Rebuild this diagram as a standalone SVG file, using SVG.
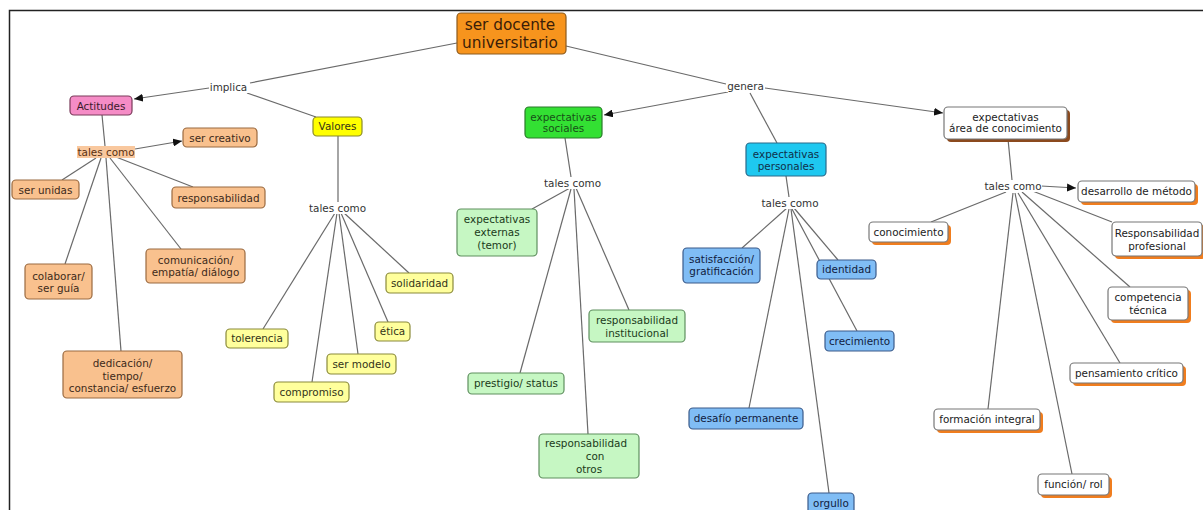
<svg xmlns="http://www.w3.org/2000/svg" width="1203" height="510" viewBox="0 0 1203 510">
<defs>
<marker id="ah" markerUnits="userSpaceOnUse" markerWidth="10" markerHeight="8" refX="9" refY="4" orient="auto">
<path d="M0,0 L9,4 L0,8 Z" fill="#111"/>
</marker>
</defs>
<style>
text{font-family:"DejaVu Sans","Liberation Sans",sans-serif;font-size:10.4px;text-anchor:middle}
.c line{stroke:#6a6a6a;stroke-width:1.2}
.c .a{marker-end:url(#ah)}
.lbl text{fill:#333}
.n rect{stroke-width:1.2}
.root rect{fill:#F7941D;stroke:#8B5A1E}
.root text{font-size:15.3px;fill:#3b1d08}
.pink rect{fill:#F58CC6;stroke:#7a3a5a}
.pink text{fill:#3a1a2a}
.peach rect{fill:#F9C18E;stroke:#9a6a40}
.peach text{fill:#3d2a1a}
.yel rect{fill:#FFFF9C;stroke:#8a8a3a}
.yel text{fill:#333318}
.ybright rect{fill:#FFFF00;stroke:#8a8a2a}
.lgreen rect{fill:#C6F7C3;stroke:#5f8f5f}
.lgreen text{fill:#1a3a1a}
.bgreen rect{fill:#33E033;stroke:#2a7a2a}
.bgreen text{fill:#185018}
.cyan rect{fill:#1EC8F0;stroke:#2a6a8a}
.cyan text{fill:#10304a}
.blue rect{fill:#80BDF5;stroke:#3a5a8a}
.blue text{fill:#102040}
.wht rect.s{fill:#F07D1E;stroke:none}
.wht rect.b{fill:#fff;stroke:#777}
.wht text{fill:#222}
.brn rect.s{fill:#8B4A1E}
</style>
<path d="M9.5,510 V10.5 H1203" fill="none" stroke="#222" stroke-width="1.5"/>

<g id="connectors" class="c">
<line x1="457" y1="43" x2="250" y2="83"/>
<line class="a" x1="209" y1="88" x2="134" y2="99"/>
<line x1="247" y1="93" x2="316" y2="117"/>
<line x1="566" y1="46" x2="726" y2="84"/>
<line class="a" x1="728" y1="92" x2="604" y2="115"/>
<line x1="750" y1="93" x2="777" y2="143"/>
<line class="a" x1="765" y1="88" x2="943" y2="113"/>
<line x1="102" y1="115" x2="105" y2="146"/>
<line class="a" x1="135" y1="149" x2="182" y2="141"/>
<line x1="96" y1="158" x2="62" y2="180"/>
<line x1="101" y1="158" x2="65" y2="264"/>
<line x1="106" y1="158" x2="121" y2="351"/>
<line x1="110" y1="158" x2="181" y2="249"/>
<line x1="116" y1="157" x2="193" y2="187"/>
<line x1="338" y1="136" x2="338" y2="202"/>
<line x1="335" y1="213" x2="263" y2="329"/>
<line x1="337" y1="213" x2="312" y2="382"/>
<line x1="339" y1="213" x2="358" y2="354"/>
<line x1="341" y1="213" x2="388" y2="322"/>
<line x1="343" y1="212" x2="409" y2="273"/>
<line x1="565" y1="138" x2="571" y2="177"/>
<line x1="570" y1="188" x2="532" y2="209"/>
<line x1="571" y1="189" x2="520" y2="373"/>
<line x1="574" y1="189" x2="588" y2="434"/>
<line x1="576" y1="188" x2="629" y2="310"/>
<line x1="786" y1="176" x2="789" y2="197"/>
<line x1="787" y1="208" x2="742" y2="248"/>
<line x1="792" y1="209" x2="857" y2="331"/>
<line x1="794" y1="208" x2="838" y2="260"/>
<line x1="789" y1="209" x2="749" y2="408"/>
<line x1="791" y1="209" x2="829" y2="493"/>
<line x1="1008" y1="139" x2="1012" y2="180"/>
<line class="a" x1="1041" y1="186" x2="1076" y2="188"/>
<line x1="1006" y1="192" x2="931" y2="222"/>
<line x1="1030" y1="190" x2="1112" y2="222"/>
<line x1="1022" y1="192" x2="1130" y2="287"/>
<line x1="1018" y1="193" x2="1120" y2="363"/>
<line x1="1013" y1="193" x2="988" y2="409"/>
<line x1="1015" y1="193" x2="1072" y2="474"/>
</g>

<g id="lbl-implica" class="lbl"><rect x="209" y="80" width="40" height="13" fill="#fff"/><text x="228.5" y="90.5">implica</text></g>
<g id="lbl-genera" class="lbl"><rect x="726" y="79" width="39" height="13" fill="#fff"/><text x="745.5" y="89.5">genera</text></g>
<g id="lbl-tc-actitudes"><rect x="77" y="146" width="58" height="12" fill="#F9C89E"/><text x="106" y="156" fill="#5a3010">tales como</text></g>
<g id="lbl-tc-valores" class="lbl"><rect x="308" y="202" width="59" height="12" fill="#fff"/><text x="337.5" y="211.5">tales como</text></g>
<g id="lbl-tc-sociales" class="lbl"><rect x="543" y="177" width="59" height="12" fill="#fff"/><text x="572.5" y="186.5">tales como</text></g>
<g id="lbl-tc-personales" class="lbl"><rect x="761" y="197" width="59" height="12" fill="#fff"/><text x="790" y="206.5">tales como</text></g>
<g id="lbl-tc-area" class="lbl"><rect x="984" y="180" width="58" height="12" fill="#fff"/><text x="1013" y="189.5">tales como</text></g>

<g id="n-root" class="n root"><rect x="457" y="13" width="109" height="41" rx="4"/><text x="510" y="30">ser docente</text><text x="510" y="48">universitario</text></g>
<g id="n-actitudes" class="n pink"><rect x="70" y="96" width="62" height="19" rx="4"/><text x="101" y="109.5">Actitudes</text></g>
<g id="n-valores" class="n ybright"><rect x="313" y="117" width="49" height="19" rx="4"/><text x="337.5" y="130" fill="#333318">Valores</text></g>

<g id="n-ser-creativo" class="n peach"><rect x="183" y="128" width="74" height="19" rx="4"/><text x="220" y="141.5">ser creativo</text></g>
<g id="n-ser-unidas" class="n peach"><rect x="12" y="180" width="67" height="19" rx="4"/><text x="45.5" y="193.5">ser unidas</text></g>
<g id="n-responsabilidad" class="n peach"><rect x="172" y="187" width="93" height="21" rx="4"/><text x="218.5" y="201.5">responsabilidad</text></g>
<g id="n-colaborar" class="n peach"><rect x="25" y="264" width="67" height="35" rx="4"/><text x="58.5" y="280">colaborar/</text><text x="58.5" y="292">ser guía</text></g>
<g id="n-comunicacion" class="n peach"><rect x="146" y="249" width="99" height="34" rx="4"/><text x="195.5" y="264">comunicación/</text><text x="195.5" y="276">empatía/ diálogo</text></g>
<g id="n-dedicacion" class="n peach"><rect x="63" y="351" width="119" height="47" rx="4"/><text x="122.5" y="367">dedicación/</text><text x="122.5" y="379.5">tiempo/</text><text x="122.5" y="392">constancia/ esfuerzo</text></g>

<g id="n-solidaridad" class="n yel"><rect x="386" y="273" width="67" height="20" rx="4"/><text x="419.5" y="286.5">solidaridad</text></g>
<g id="n-etica" class="n yel"><rect x="375" y="322" width="35" height="19" rx="4"/><text x="392.5" y="335">ética</text></g>
<g id="n-tolerencia" class="n yel"><rect x="226" y="329" width="62" height="19" rx="4"/><text x="257" y="342">tolerencia</text></g>
<g id="n-ser-modelo" class="n yel"><rect x="327" y="354" width="69" height="20" rx="4"/><text x="361.5" y="367.5">ser modelo</text></g>
<g id="n-compromiso" class="n yel"><rect x="274" y="382" width="75" height="20" rx="4"/><text x="311.5" y="395.5">compromiso</text></g>

<g id="n-exp-sociales" class="n bgreen"><rect x="525" y="107" width="77" height="31" rx="4"/><text x="563.5" y="120.5">expectativas</text><text x="563.5" y="132">sociales</text></g>
<g id="n-exp-personales" class="n cyan"><rect x="746" y="143" width="80" height="33" rx="4"/><text x="786" y="157.5">expectativas</text><text x="786" y="169.5">personales</text></g>
<g id="n-exp-area" class="n wht brn"><rect class="s" x="947" y="110" width="123" height="32" rx="4"/><rect class="b" x="944" y="107" width="123" height="32" rx="4"/><text x="1005.5" y="120.5">expectativas</text><text x="1005.5" y="132">área de conocimiento</text></g>

<g id="n-externas" class="n lgreen"><rect x="457" y="209" width="80" height="47" rx="4"/><text x="497" y="222.5">expectativas</text><text x="497" y="235.5">externas</text><text x="497" y="248.5">(temor)</text></g>
<g id="n-resp-inst" class="n lgreen"><rect x="589" y="310" width="96" height="32" rx="4"/><text x="637" y="324">responsabilidad</text><text x="637" y="336.5">institucional</text></g>
<g id="n-prestigio" class="n lgreen"><rect x="468" y="373" width="96" height="21" rx="4"/><text x="516" y="387">prestigio/ status</text></g>
<g id="n-resp-otros" class="n lgreen"><rect x="539" y="434" width="100" height="44" rx="4"/><text x="586" y="447">responsabilidad</text><text x="595" y="460">con</text><text x="589" y="473">otros</text></g>

<g id="n-satisfaccion" class="n blue"><rect x="683" y="248" width="77" height="35" rx="4"/><text x="721.5" y="262.5">satisfacción/</text><text x="721.5" y="274.5">gratificación</text></g>
<g id="n-identidad" class="n blue"><rect x="817" y="260" width="59" height="19" rx="4"/><text x="846.5" y="273">identidad</text></g>
<g id="n-crecimiento" class="n blue"><rect x="825" y="331" width="69" height="20" rx="4"/><text x="859.5" y="344.5">crecimiento</text></g>
<g id="n-desafio" class="n blue"><rect x="689" y="408" width="114" height="21" rx="4"/><text x="746" y="422">desafío permanente</text></g>
<g id="n-orgullo" class="n blue"><rect x="808" y="493" width="46" height="22" rx="4"/><text x="831" y="506.5">orgullo</text></g>

<g id="n-desarrollo" class="n wht"><rect class="s" x="1081" y="184" width="117" height="21" rx="4"/><rect class="b" x="1078" y="181" width="117" height="21" rx="4"/><text x="1136.5" y="195">desarrollo de método</text></g>
<g id="n-conocimiento" class="n wht"><rect class="s" x="872" y="225" width="79" height="20" rx="4"/><rect class="b" x="869" y="222" width="79" height="20" rx="4"/><text x="908.5" y="235.5">conocimiento</text></g>
<g id="n-resp-prof" class="n wht"><rect class="s" x="1115" y="225" width="90" height="34" rx="4"/><rect class="b" x="1112" y="222" width="90" height="34" rx="4"/><text x="1157" y="236.5">Responsabilidad</text><text x="1157" y="249.5">profesional</text></g>
<g id="n-competencia" class="n wht"><rect class="s" x="1111" y="290" width="80" height="33" rx="4"/><rect class="b" x="1108" y="287" width="80" height="33" rx="4"/><text x="1148" y="300.5">competencia</text><text x="1148" y="313.5">técnica</text></g>
<g id="n-pensamiento" class="n wht"><rect class="s" x="1073" y="366" width="113" height="20" rx="4"/><rect class="b" x="1070" y="363" width="113" height="20" rx="4"/><text x="1126.5" y="376.5">pensamiento crítico</text></g>
<g id="n-formacion" class="n wht"><rect class="s" x="937" y="412" width="106" height="21" rx="4"/><rect class="b" x="934" y="409" width="106" height="21" rx="4"/><text x="987" y="423">formación integral</text></g>
<g id="n-funcion" class="n wht"><rect class="s" x="1041" y="477" width="71" height="21" rx="4"/><rect class="b" x="1038" y="474" width="71" height="21" rx="4"/><text x="1073.5" y="488">función/ rol</text></g>
</svg>
